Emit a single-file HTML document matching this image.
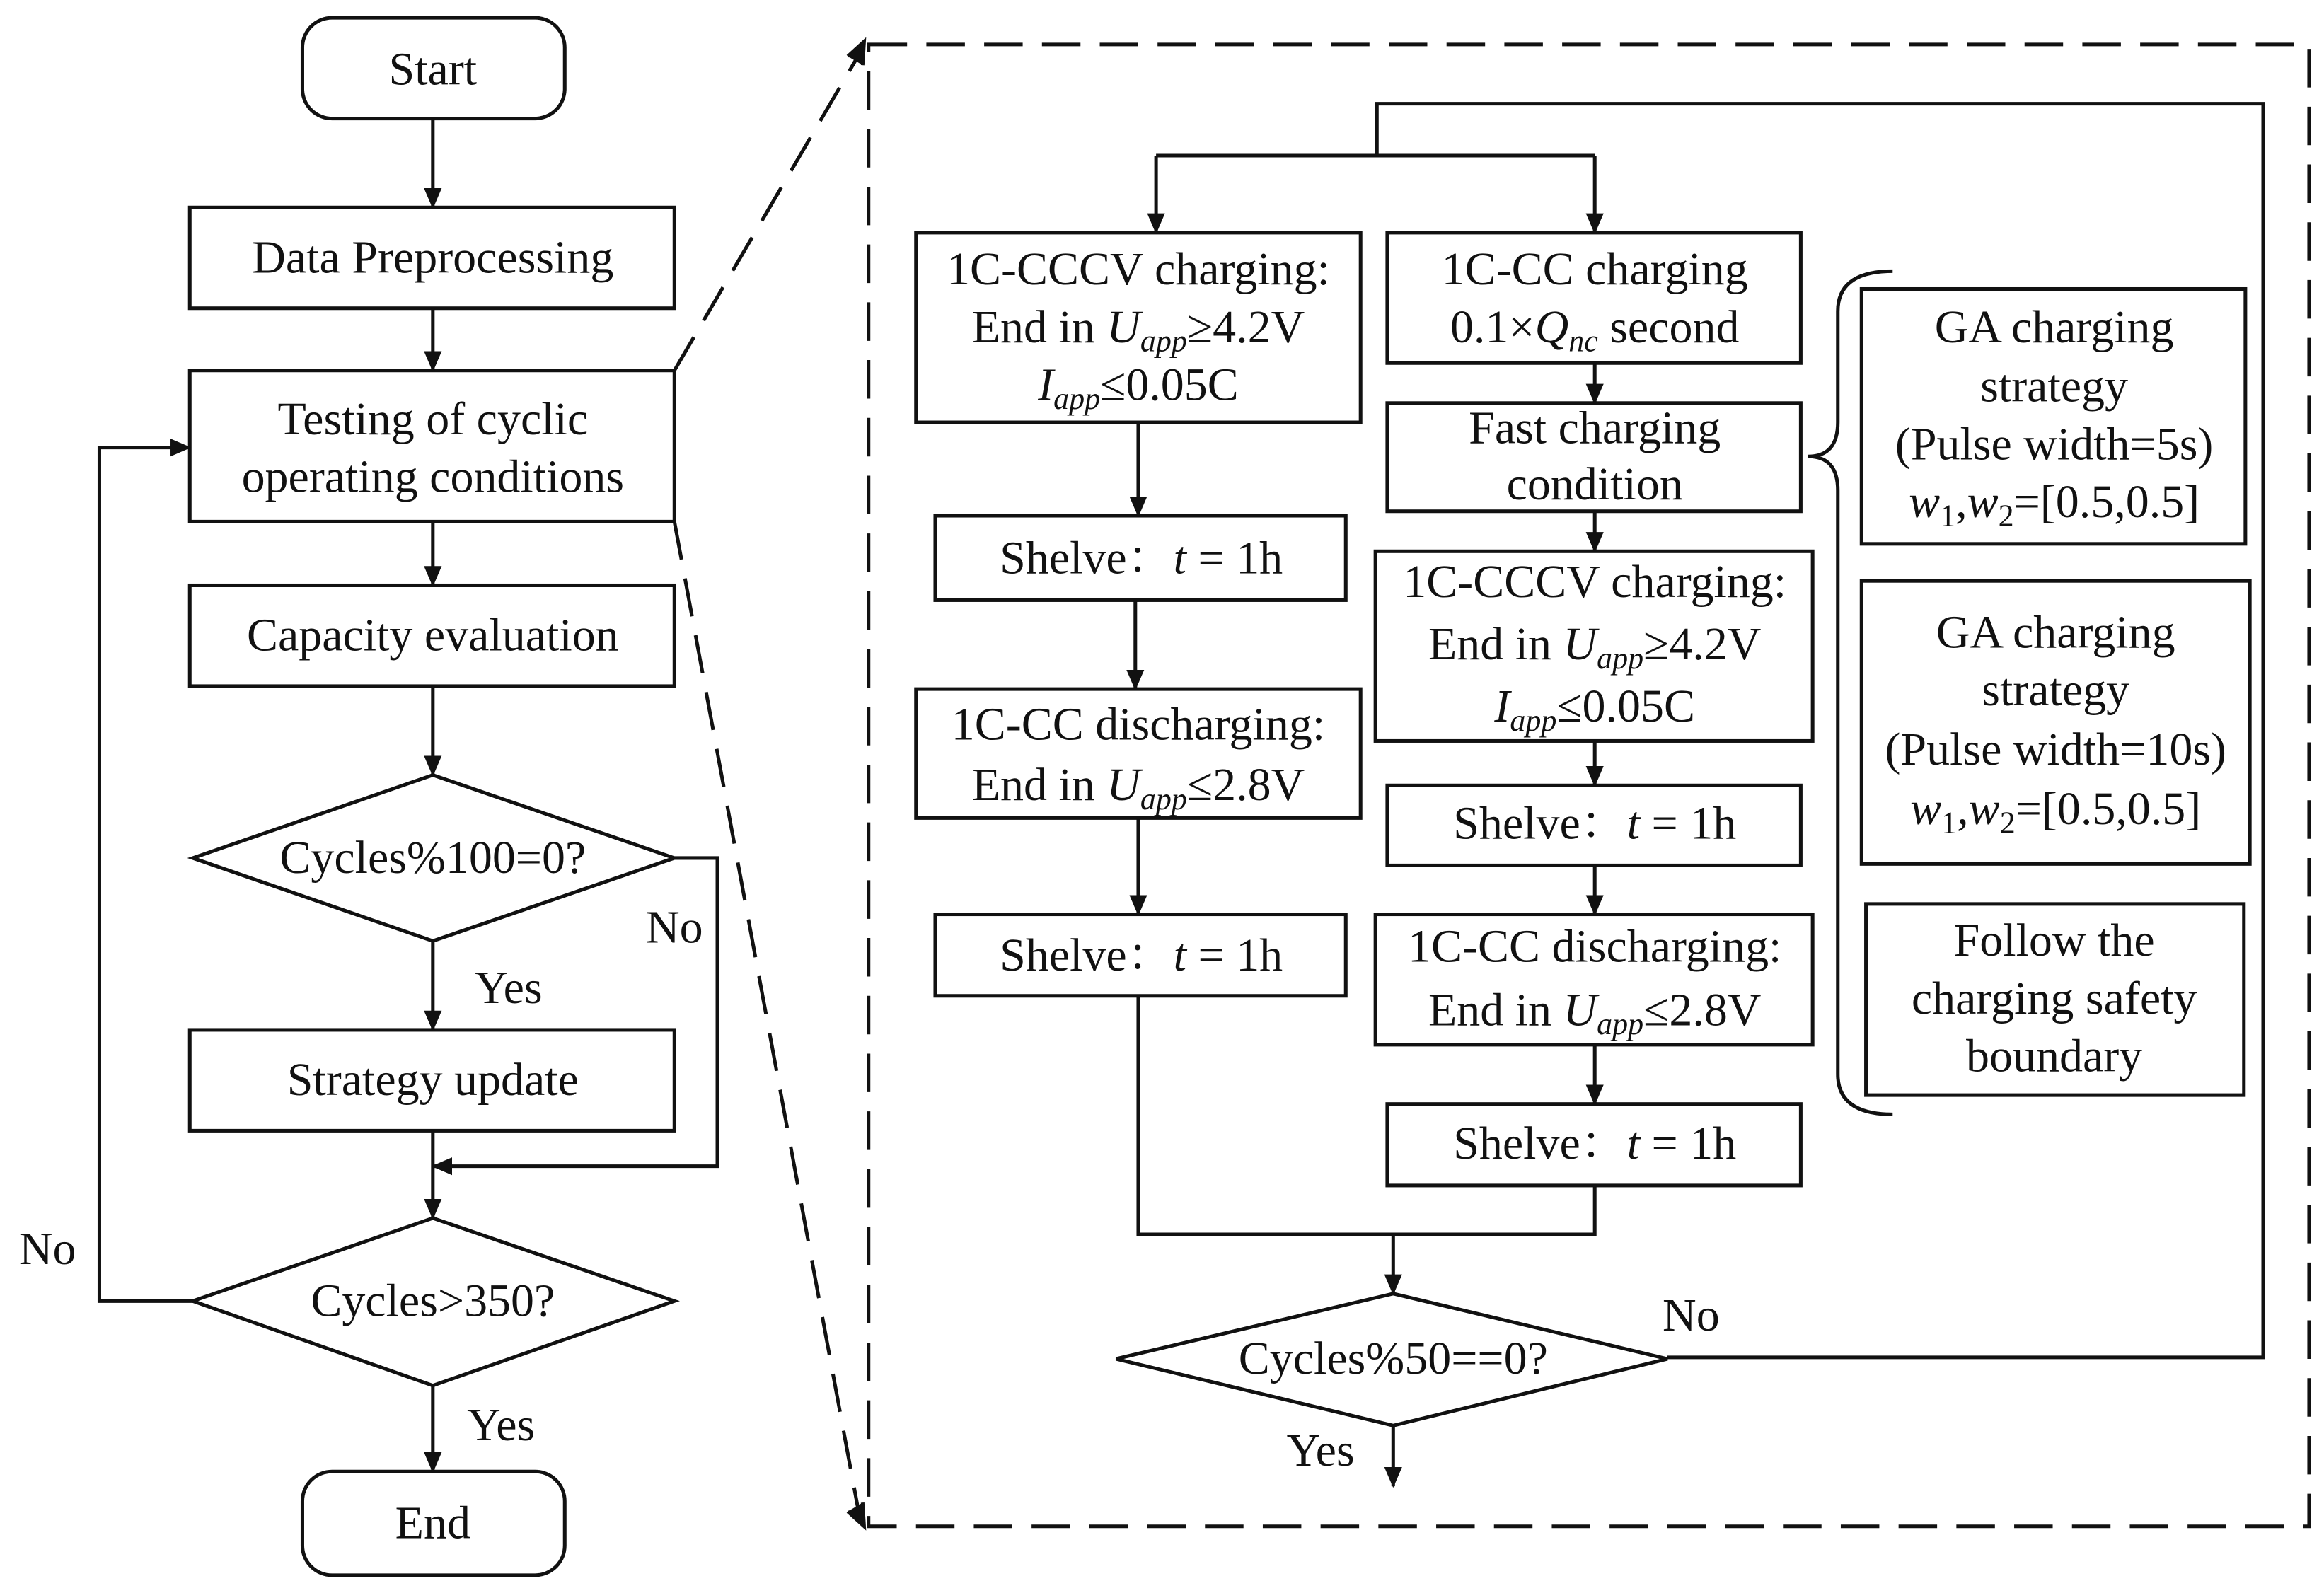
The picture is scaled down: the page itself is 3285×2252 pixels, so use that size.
<!DOCTYPE html>
<html><head><meta charset="utf-8"><style>
html,body{margin:0;padding:0;background:#fff;}
svg{display:block;}
text{font-family:"Liberation Serif","Noto Serif CJK SC",serif;font-size:31.5px;fill:#111;text-anchor:middle;}
.i{font-style:italic;}
.s{font-size:21px;font-style:italic;}
</style></head><body>
<svg width="3285" height="2252" viewBox="0 0 1568 1075" xmlns="http://www.w3.org/2000/svg">
<defs>
<marker id="b" viewBox="0 0 14 14" markerWidth="14" markerHeight="14" refX="13" refY="7" orient="auto" markerUnits="userSpaceOnUse"><path d="M0,1 L14,7 L0,13 z" fill="#111"/></marker></defs>
<g fill="none" stroke="#111" stroke-width="2.4">
<rect x="204" y="12" width="177" height="68" rx="20"/>
<rect x="128" y="140" width="327" height="68"/>
<rect x="128" y="250" width="327" height="102"/>
<rect x="128" y="395" width="327" height="68"/>
<path d="M292,523 L455,579 L292,635 L130,579 Z"/>
<rect x="128" y="695" width="327" height="68"/>
<path d="M292,822 L455,878 L292,935 L130,878 Z"/>
<rect x="204" y="993" width="177" height="70" rx="20"/>
<g marker-end="url(#b)">
<line x1="292" y1="80" x2="292" y2="140"/>
<line x1="292" y1="208" x2="292" y2="250"/>
<line x1="292" y1="352" x2="292" y2="395"/>
<line x1="292" y1="463" x2="292" y2="523"/>
<line x1="292" y1="635" x2="292" y2="695"/>
<line x1="292" y1="763" x2="292" y2="822"/>
<polyline points="455,579 484,579 484,787 292,787"/>
<line x1="292" y1="935" x2="292" y2="993"/>
<polyline points="130,878 67,878 67,302 128,302"/>
</g>
<g stroke-dasharray="26,13">
<rect x="586" y="30" width="972" height="1000"/>
<line x1="455" y1="250" x2="580" y2="36"/>
<line x1="455" y1="352" x2="580" y2="1024"/>
</g>
<path d="M572,38 L583,28 L582,44" fill="#111"/>
<path d="M572,1020 L583,1030 L582,1014" fill="#111"/>
<polyline points="1125,916 1527,916 1527,70 929,70 929,105"/>
<line x1="780" y1="105" x2="1076" y2="105"/>
<g marker-end="url(#b)">
<line x1="780" y1="105" x2="780" y2="157"/>
<line x1="1076" y1="105" x2="1076" y2="157"/>
<line x1="768" y1="285" x2="768" y2="348"/>
<line x1="766" y1="405" x2="766" y2="465"/>
<line x1="768" y1="552" x2="768" y2="617"/>
<line x1="940" y1="833" x2="940" y2="873"/>
<line x1="1076" y1="245" x2="1076" y2="272"/>
<line x1="1076" y1="345" x2="1076" y2="372"/>
<line x1="1076" y1="500" x2="1076" y2="530"/>
<line x1="1076" y1="584" x2="1076" y2="617"/>
<line x1="1076" y1="705" x2="1076" y2="745"/>
<line x1="940" y1="962" x2="940" y2="1003"/>
</g>
<polyline points="768,672 768,833 1076,833 1076,800"/>
<rect x="618" y="157" width="300" height="128"/>
<rect x="631" y="348" width="277" height="57"/>
<rect x="618" y="465" width="300" height="87"/>
<rect x="631" y="617" width="277" height="55"/>
<rect x="936" y="157" width="279" height="88"/>
<rect x="936" y="272" width="279" height="73"/>
<rect x="928" y="372" width="295" height="128"/>
<rect x="936" y="530" width="279" height="54"/>
<rect x="928" y="617" width="295" height="88"/>
<rect x="936" y="745" width="279" height="55"/>
<path d="M940,873 L1125,917 L940,962 L753,917 Z"/>
<path d="M1277,183 Q1240,183 1240,210 L1240,285 Q1240,308 1220,308 Q1240,308 1240,331 L1240,725 Q1240,752 1277,752"/>
<rect x="1256" y="195" width="259" height="172"/>
<rect x="1256" y="392" width="262" height="191"/>
<rect x="1259" y="610" width="255" height="129"/>
</g>
<text x="292" y="57">Start</text>
<text x="292" y="184">Data Preprocessing</text>
<text x="292" y="293">Testing of cyclic</text>
<text x="292" y="332">operating conditions</text>
<text x="292" y="439">Capacity evaluation</text>
<text x="292" y="589">Cycles%100=0?</text>
<text x="343" y="677">Yes</text>
<text x="455" y="636">No</text>
<text x="292" y="739">Strategy update</text>
<text x="292" y="888">Cycles&gt;350?</text>
<text x="338" y="972">Yes</text>
<text x="32" y="853">No</text>
<text x="292" y="1038">End</text>

<text x="768" y="192">1C-CCCV charging:</text>
<text x="768" y="231">End in <tspan class="i">U</tspan><tspan class="s" dy="6">app</tspan><tspan dy="-6">≥4.2V</tspan></text>
<text x="768" y="270"><tspan class="i">I</tspan><tspan class="s" dy="6">app</tspan><tspan dy="-6">≤0.05C</tspan></text>
<text x="770" y="387">Shelve：<tspan class="i">t</tspan> = 1h</text>
<text x="768" y="499">1C-CC discharging:</text>
<text x="768" y="540">End in <tspan class="i">U</tspan><tspan class="s" dy="6">app</tspan><tspan dy="-6">≤2.8V</tspan></text>
<text x="770" y="655">Shelve：<tspan class="i">t</tspan> = 1h</text>

<text x="1076" y="192">1C-CC charging</text>
<text x="1076" y="231">0.1×<tspan class="i">Q</tspan><tspan class="s" dy="6">nc</tspan><tspan dy="-6"> second</tspan></text>
<text x="1076" y="299">Fast charging</text>
<text x="1076" y="337">condition</text>
<text x="1076" y="403">1C-CCCV charging:</text>
<text x="1076" y="445">End in <tspan class="i">U</tspan><tspan class="s" dy="6">app</tspan><tspan dy="-6">≥4.2V</tspan></text>
<text x="1076" y="487"><tspan class="i">I</tspan><tspan class="s" dy="6">app</tspan><tspan dy="-6">≤0.05C</tspan></text>
<text x="1076" y="566">Shelve：<tspan class="i">t</tspan> = 1h</text>
<text x="1076" y="649">1C-CC discharging:</text>
<text x="1076" y="692">End in <tspan class="i">U</tspan><tspan class="s" dy="6">app</tspan><tspan dy="-6">≤2.8V</tspan></text>
<text x="1076" y="782">Shelve：<tspan class="i">t</tspan> = 1h</text>
<text x="940" y="927">Cycles%50==0?</text>
<text x="891" y="989">Yes</text>
<text x="1141" y="898">No</text>

<text x="1386" y="231">GA charging</text>
<text x="1386" y="271">strategy</text>
<text x="1386" y="310">(Pulse width=5s)</text>
<text x="1386" y="349"><tspan class="i">w</tspan><tspan font-size="21" dy="6">1</tspan><tspan dy="-6">,</tspan><tspan class="i">w</tspan><tspan font-size="21" dy="6">2</tspan><tspan dy="-6">=[0.5,0.5]</tspan></text>
<text x="1387" y="437">GA charging</text>
<text x="1387" y="476">strategy</text>
<text x="1387" y="516">(Pulse width=10s)</text>
<text x="1387" y="556"><tspan class="i">w</tspan><tspan font-size="21" dy="6">1</tspan><tspan dy="-6">,</tspan><tspan class="i">w</tspan><tspan font-size="21" dy="6">2</tspan><tspan dy="-6">=[0.5,0.5]</tspan></text>
<text x="1386" y="645">Follow the</text>
<text x="1386" y="684">charging safety</text>
<text x="1386" y="723">boundary</text>
</svg>
</body></html>
